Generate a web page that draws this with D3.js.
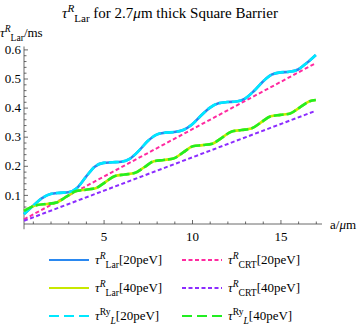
<!DOCTYPE html>
<html>
<head>
<meta charset="utf-8">
<script src="https://cdn.jsdelivr.net/npm/d3@7"></script>
<style>
  body { margin: 0; background: #fff; }
</style>
</head>
<body>
<svg id="chart" width="360" height="334"></svg>
<script>
// values
const a20 = [0.5, 1, 1.5, 2, 2.5, 3, 3.5, 4, 4.5, 5, 5.5, 6, 6.5, 7, 7.5, 8, 8.5, 9,
  9.5, 10, 10.5, 11, 11.5, 12, 12.5, 13, 13.5, 14, 14.5, 15, 15.5, 16, 16.5, 17];
const lar20 = [0.034, 0.062, 0.088, 0.103, 0.107, 0.109, 0.124, 0.162, 0.197, 0.210, 0.212,
  0.214, 0.225, 0.252, 0.285, 0.307, 0.314, 0.316, 0.323, 0.342, 0.372, 0.399, 0.415, 0.419,
  0.421, 0.431, 0.457, 0.489, 0.513, 0.521, 0.523, 0.531, 0.554, 0.581];
const ryL20 = lar20; // drawn on top of the Lar curve, they coincide

const a40 = [0.5, 0.9, 1.25, 1.8, 2.35, 2.9, 3.45, 4.0, 4.55, 5.1, 5.65, 6.2, 6.75, 7.3, 7.85,
  8.4, 8.95, 9.5, 10.05, 10.6, 11.15, 11.7, 12.25, 12.8, 13.35, 13.9, 14.45, 15.0, 15.55, 16.1, 16.65, 17.0];
const lar40 = [0.045, 0.058, 0.065, 0.069, 0.074, 0.094, 0.113, 0.118, 0.123, 0.144, 0.165, 0.170,
  0.175, 0.195, 0.216, 0.220, 0.225, 0.246, 0.267, 0.271, 0.276, 0.297, 0.318, 0.323, 0.328,
  0.349, 0.370, 0.375, 0.380, 0.401, 0.422, 0.426];
const ryL40 = lar40;

const aCrt = [0.5, 17];
const crt20 = [0.016, 0.553];
const crt40 = [0.011, 0.389];

const xMajor = [5, 10, 15];
const xMinor = d3.range(1, 18);
const yMajor = [0.1, 0.2, 0.3, 0.4, 0.5, 0.6];
const yMinor = d3.range(1, 31).map(i => i / 50);

const SERIF = "'Liberation Serif'";
const svg = d3.select("#chart");
const x = d3.scaleLinear().domain([0.5, 17.35]).range([24, 322]);
const y = d3.scaleLinear().domain([0, 0.6]).range([224, 49.4]);

// rich text: [string, "i"|"r", "sup"|"sub"|undefined]
function rich(g, px, py, parts, size, anchor) {
  const t = g.append("text").attr("x", px).attr("y", py)
    .style("font-family", SERIF)
    .attr("font-size", size).attr("text-anchor", anchor || "start");
  let cur = 0;
  parts.forEach(([s, st, pos]) => {
    const off = pos === "sup" ? -0.4 * size : pos === "sub" ? 0.28 * size : 0;
    t.append("tspan")
      .attr("dy", off - cur)
      .style("font-family", SERIF)
      .attr("font-size", pos ? size * 0.74 : size)
      .attr("font-style", st === "i" ? "italic" : "normal")
      .text(s);
    cur = off;
  });
  return t;
}

// title
rich(svg, 170, 18, [["τ", "i"], ["R", "i", "sup"], ["Lar", "r", "sub"],
  [" for 2.7", "r"], ["μ", "i"], ["m thick Square Barrier", "r"]], 15, "middle");

// axes
const ax = svg.append("g");
ax.append("line").attr("x1", x(0.5)).attr("x2", 322).attr("y1", y(0)).attr("y2", y(0))
  .attr("stroke", "#444").attr("stroke-width", 0.8);
ax.append("line").attr("x1", x(0.5)).attr("x2", x(0.5)).attr("y1", y(-0.018)).attr("y2", y(0.61))
  .attr("stroke", "#444").attr("stroke-width", 0.8);

const xMin = svg.append("g").attr("transform", `translate(0,${y(0)})`)
  .call(d3.axisBottom(x).tickValues(xMinor.filter(v => !xMajor.includes(v))).tickSize(-2.5).tickFormat(""));
const xMaj = svg.append("g").attr("transform", `translate(0,${y(0)})`)
  .call(d3.axisBottom(x).tickValues(xMajor).tickSize(-4).tickPadding(8).tickFormat(d3.format("d")));
const yMin = svg.append("g").attr("transform", `translate(${x(0.5)},0)`)
  .call(d3.axisLeft(y).tickValues(yMinor.filter(v => !yMajor.some(m => Math.abs(m - v) < 1e-9))).tickSize(-2.5).tickFormat(""));
const yMaj = svg.append("g").attr("transform", `translate(${x(0.5)},0)`)
  .call(d3.axisLeft(y).tickValues(yMajor).tickSize(-4).tickPadding(3).tickFormat(d3.format(".1f")));
[xMin, xMaj, yMin, yMaj].forEach(g => {
  g.select(".domain").remove();
  g.selectAll(".tick line").attr("stroke", "#444").attr("stroke-width", 0.8);
  g.selectAll("text").style("font-family", SERIF).attr("font-size", 13).attr("fill", "#000");
});

rich(svg, 0, 37, [["τ", "i"], ["R", "i", "sup"], ["Lar", "r", "sub"], ["/ms", "r"]], 13);
rich(svg, 330, 229, [["a/", "r"], ["μ", "i"], ["m", "r"]], 13);

// series
const series = [
  { xs: a20, ys: lar20, color: "#2a88f0", w: 2.6, dash: null },
  { xs: aCrt, ys: crt20, color: "#ff2aa0", w: 2, dash: "4,2.5" },
  { xs: a40, ys: lar40, color: "#c8e800", w: 2.6, dash: null },
  { xs: aCrt, ys: crt40, color: "#8c2cff", w: 2, dash: "4,2.5" },
  { xs: a20, ys: ryL20, color: "#00e8ff", w: 2.6, dash: "10,3" },
  { xs: a40, ys: ryL40, color: "#22ee22", w: 2.6, dash: "10,3" }
];
const line = d3.line().x(d => x(d[0])).y(d => y(d[1])).curve(d3.curveMonotoneX);
series.forEach(s => {
  svg.append("path")
    .attr("d", line(s.xs.map((v, i) => [v, s.ys[i]])))
    .attr("fill", "none").attr("stroke", s.color).attr("stroke-width", s.w)
    .attr("stroke-dasharray", s.dash);
});

// legend
const legend = [
  { row: 0, col: 0, color: "#2a88f0", dash: null, parts: [["τ", "i"], ["R", "i", "sup"], ["Lar", "r", "sub"], ["[20peV]", "r"]] },
  { row: 0, col: 1, color: "#ff2aa0", dash: "4,2.5", parts: [["τ", "i"], ["R", "i", "sup"], ["CRT", "r", "sub"], ["[20peV]", "r"]] },
  { row: 1, col: 0, color: "#c8e800", dash: null, parts: [["τ", "i"], ["R", "i", "sup"], ["Lar", "r", "sub"], ["[40peV]", "r"]] },
  { row: 1, col: 1, color: "#8c2cff", dash: "4,2.5", parts: [["τ", "i"], ["R", "i", "sup"], ["CRT", "r", "sub"], ["[40peV]", "r"]] },
  { row: 2, col: 0, color: "#00e8ff", dash: "10,5", parts: [["τ", "i"], ["Ry", "r", "sup"], ["L", "i", "sub"], ["[20peV]", "r"]] },
  { row: 2, col: 1, color: "#22ee22", dash: "10,5", parts: [["τ", "i"], ["Ry", "r", "sup"], ["L", "i", "sub"], ["[40peV]", "r"]] }
];
const colX = [49, 182];
legend.forEach(l => {
  const ly = 260 + l.row * 28;
  const lx = colX[l.col];
  svg.append("line").attr("x1", lx).attr("x2", lx + 40).attr("y1", ly).attr("y2", ly)
    .attr("stroke", l.color).attr("stroke-width", 2).attr("stroke-dasharray", l.dash);
  rich(svg, lx + 46, ly + 4, l.parts, 13);
});
</script>
</body>
</html>
